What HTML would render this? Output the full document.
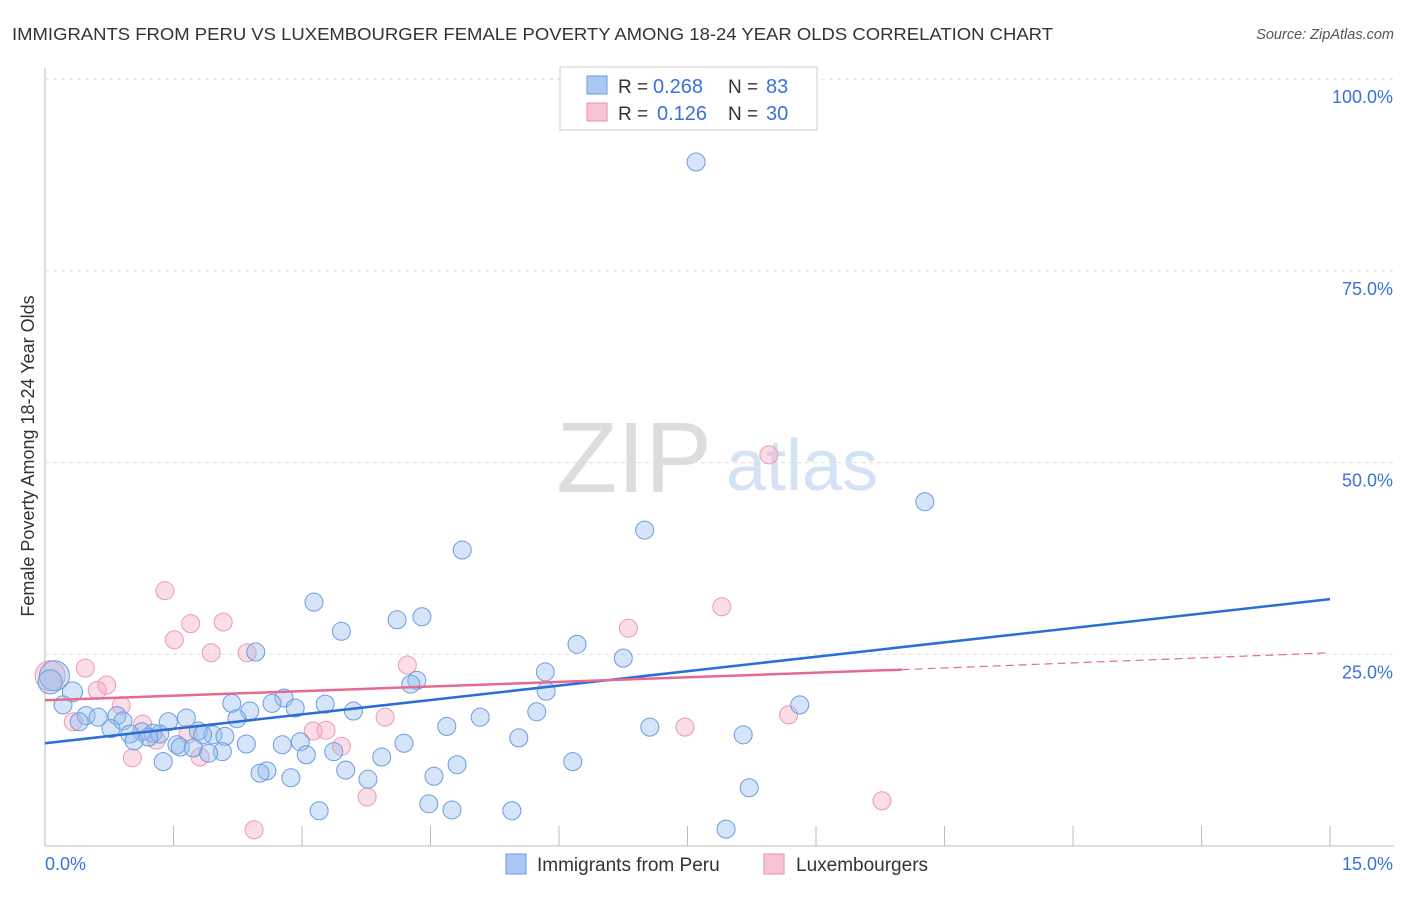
<!DOCTYPE html>
<html><head><meta charset="utf-8"><style>
body{margin:0;background:#fff;font-family:"Liberation Sans",sans-serif;}
svg text{font-family:"Liberation Sans",sans-serif;}
</style></head><body>
<svg id="c" width="1406" height="892">
<text x="12" y="40" font-size="17.5" fill="#333" textLength="1041" lengthAdjust="spacingAndGlyphs">IMMIGRANTS FROM PERU VS LUXEMBOURGER FEMALE POVERTY AMONG 18-24 YEAR OLDS CORRELATION CHART</text>
<text x="1394" y="39" font-size="14.5" fill="#555" font-style="italic" text-anchor="end">Source: ZipAtlas.com</text>
<g><text x="634" y="492" font-size="100" fill="#ddd" font-family="Liberation Serif" text-anchor="middle">ZIP</text><text x="802" y="490" font-size="72" fill="#d4e2f5" text-anchor="middle">atlas</text></g>
<g id="grid"></g><g id="marks"></g>
<text transform="translate(34,456) rotate(-90)" font-size="18" fill="#333" text-anchor="middle">Female Poverty Among 18-24 Year Olds</text>
<g>
<rect x="560" y="67" width="257" height="63" fill="#fff" stroke="#ccc"/>
<rect x="587" y="76" width="20" height="18" fill="#aac8f2" stroke="#6a9de0"/>
<rect x="587" y="103" width="20" height="18" fill="#f8c4d4" stroke="#e890a8"/>
<text x="618" y="93" font-size="19" fill="#333">R =</text><text x="653" y="93" font-size="20" fill="#3a72d8">0.268</text>
<text x="728" y="93" font-size="19" fill="#333">N =</text><text x="766" y="93" font-size="20" fill="#3a72d8">83</text>
<text x="618" y="120" font-size="19" fill="#333">R =</text><text x="657" y="120" font-size="20" fill="#3a72d8">0.126</text>
<text x="728" y="120" font-size="19" fill="#333">N =</text><text x="766" y="120" font-size="20" fill="#3a72d8">30</text>
</g>
<g>
<rect x="506" y="854" width="20" height="20" fill="#aac8f2" stroke="#6a9de0"/>
<text x="537" y="871" font-size="19" fill="#333">Immigrants from Peru</text>
<rect x="764" y="854" width="20" height="20" fill="#f8c4d4" stroke="#e890a8"/>
<text x="796" y="871" font-size="19" fill="#333">Luxembourgers</text>
</g>
</svg>
<script>
const blueX=[7.60,10.27,7.00,4.87,3.14,4.40,4.11,3.46,6.21,2.46,6.75,5.84,4.34,4.27,5.85,0.32,2.79,2.18,2.65,3.27,2.92,0.21,8.81,3.60,2.39,0.48,0.84,1.65,0.62,0.91,5.08,5.74,2.24,1.44,0.40,0.77,4.69,7.06,1.79,1.13,1.96,1.84,2.10,0.99,1.26,1.34,1.21,5.53,8.15,1.04,1.54,2.35,2.77,2.98,4.19,1.58,1.73,2.07,1.91,3.37,3.05,3.93,1.38,4.81,6.16,3.51,2.59,2.51,4.54,2.87,3.77,8.22,4.48,4.75,3.20,5.45,7.95,0.11,0.06];
const blueY=[89.2,44.9,41.2,38.6,31.8,29.9,29.5,28.0,26.3,25.3,24.5,22.7,21.6,21.1,20.2,20.1,19.3,18.6,18.6,18.5,18.0,18.4,18.4,17.6,17.6,17.0,17.0,16.7,16.8,16.3,16.8,17.5,16.6,16.2,16.2,15.3,15.6,15.5,15.0,14.9,14.5,14.5,14.3,14.6,14.7,14.6,14.2,14.1,14.5,13.7,13.2,13.3,13.2,13.6,13.4,12.9,12.8,12.3,12.1,12.3,11.9,11.6,11.0,10.6,11.0,9.9,9.8,9.5,9.1,8.9,8.7,7.6,5.5,4.7,4.6,4.6,2.2,22.2,21.4];
const blueR=[9,9,9,9,9,9,9,9,9,9,9,9,9,9,9,10,9,9,9,9,9,9,9,9,9,9,9,9,9,9,9,9,9,9,9,9,9,9,9,9,9,9,9,9,9,9,9,9,9,9,9,9,9,9,9,9,9,9,9,9,9,9,9,9,9,9,9,9,9,9,9,9,9,9,9,9,9,15,12];
const pinkX=[8.45,1.40,1.70,2.08,6.81,1.51,1.94,2.36,7.90,4.23,0.47,0.72,0.61,0.89,3.97,1.14,3.13,3.28,1.67,1.30,3.46,7.47,1.81,1.02,3.76,2.44,9.77,8.68,0.33,0.06];
const pinkY=[51.0,33.3,29.0,29.2,28.4,26.9,25.2,25.2,31.2,23.6,23.2,21.0,20.3,18.3,16.8,15.9,15.0,15.1,14.6,13.8,13.0,15.5,11.6,11.5,6.4,2.1,5.9,17.1,16.2,22.2];
const yTicks=[100,75,50,25];
const xTickVals=[0,1.5,3,4.5,6,7.5,9,10.5,12,13.5,15];
const blueTrend=[13.4,32.2];
const pinkTrend=[19.0,23.0,25.2];
const xs=v=>45+v*85.67, ys=v=>846-v*7.668;
const NS="http://www.w3.org/2000/svg";
function mk(p,t,a){const e=document.createElementNS(NS,t);for(const k in a)e.setAttribute(k,a[k]);p.appendChild(e);return e;}
const g=document.getElementById('grid'), m=document.getElementById('marks');
let ax=mk(g,'line',{x1:45,y1:68,x2:45,y2:846,stroke:'#bbb'});


let bx=mk(g,'line',{x1:45,y1:846,x2:1394,y2:846,stroke:'#bbb'});


yTicks.forEach(v=>{
 const l=mk(g,'line',{x1:45,x2:1394,y1:ys(v),y2:ys(v),stroke:'#ddd','stroke-dasharray':'4,4'});
 
 
 const t=mk(g,'text',{x:1393,y:ys(v)+24,'font-size':18,fill:'#3a72d8','text-anchor':'end'});
 t.textContent=v.toFixed(1)+'%';
 
 
});
xTickVals.forEach((v,i)=>{
 if(i==0)return;
 const l=mk(g,'line',{x1:xs(v),x2:xs(v),y1:826,y2:846,stroke:'#bbb'});
 
 
});
[[0,'start',45],[15,'end',1393]].forEach(([v,a,x])=>{
 const t=mk(g,'text',{x:x,y:870,'font-size':18,fill:'#3a72d8','text-anchor':a});
 t.textContent=v.toFixed(1)+'%';
 
 
});
pinkX.forEach((x,i)=>{
 const c=mk(m,'circle',{cx:xs(x),cy:ys(pinkY[i]),r:i==pinkX.length-1?15:9,fill:'rgba(244,170,195,0.4)',stroke:'#eb9ab2','stroke-width':1});
 
 
});
blueX.forEach((x,i)=>{
 const c=mk(m,'circle',{cx:xs(x),cy:ys(blueY[i]),r:blueR[i],fill:'rgba(150,188,238,0.4)',stroke:'#6a9de0','stroke-width':1});
 
 
});
let bl=mk(m,'line',{x1:xs(0),y1:ys(blueTrend[0]),x2:xs(15),y2:ys(blueTrend[1]),stroke:'#2a6ed8','stroke-width':2.5});


let pl=mk(m,'line',{x1:xs(0),y1:ys(pinkTrend[0]),x2:xs(10),y2:ys(pinkTrend[1]),stroke:'#e56a92','stroke-width':2.5});


let pd=mk(m,'line',{x1:xs(10),y1:ys(pinkTrend[1]),x2:xs(15),y2:ys(pinkTrend[2]),stroke:'#e56a92','stroke-width':1.2,'stroke-dasharray':'8,5'});


</script>
</body></html>
